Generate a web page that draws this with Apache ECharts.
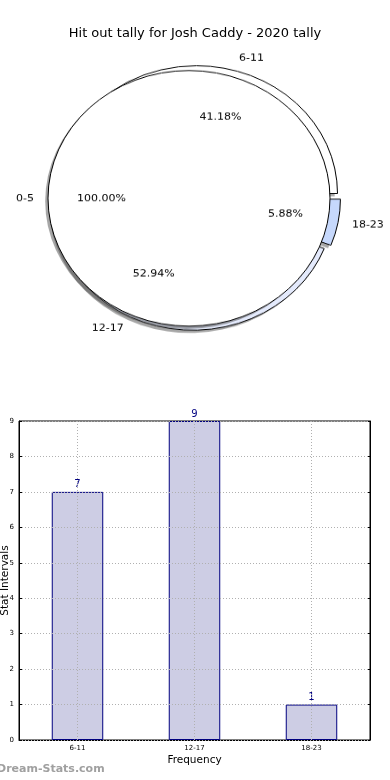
<!DOCTYPE html>
<html>
<head>
<meta charset="utf-8">
<script src="https://cdn.jsdelivr.net/npm/echarts@6/dist/echarts.min.js"></script>
<style>
html,body{margin:0;padding:0;background:#fff;}
#main{position:absolute;left:0;top:0;width:390px;height:780px;}
#pie{position:absolute;left:0;top:0;width:390px;height:420px;transform:scaleY(0.9064);transform-origin:0 0;}
</style>
</head>
<body>
<div id="main"></div>
<div id="pie"></div>
<script>
// ---- data ----
const titleText = 'Hit out tally for Josh Caddy - 2020 tally';
const pieCategories = ['6-11', '12-17', '18-23'];
const pieValues = [7, 9, 1];
const innerCategories = ['0-5'];
const innerValues = [1];
const barCategories = ['6-11', '12-17', '18-23'];
const barValues = [7, 9, 1];
const yAxisName = 'Stat Intervals';
const xAxisName = 'Frequency';
const watermark = 'Dream-Stats.com';

// ---- styles ----
const FONT = 'DejaVu Sans';
const SY = 0.9064;
const R = 141, CX = 195, CY = 218.8;
const SHX = -2.8, SHY = 2.8 / SY;
const pieColors = ['#ffffff', '#e4eafc', '#c6d8fc'];
const explode = [5.5, 5, 4.5];
const innerExplode = 6;
const shadowFill = 'rgba(77,77,77,0.5)';
const hidden = {color: 'rgba(0,0,0,0)', borderWidth: 0};
const pctFmt = p => p.percent.toFixed(2) + '%';

function basePie(z, offset, radius, center) {
  return {
    type: 'pie', z: z, center: center || [CX, CY], radius: radius,
    startAngle: 0, clockwise: false,
    selectedMode: 'multiple', selectedOffset: offset,
    avoidLabelOverlap: false, animation: false,
    emphasis: {disabled: true}
  };
}
const noLabel = {label: {show: false}, labelLine: {show: false}};
const pieSeries = [];
pieCategories.forEach((c, i) => {
  // shadow copy
  pieSeries.push(Object.assign(basePie(1, explode[i], [0, R], [CX + SHX, CY + SHY]), noLabel, {
    data: pieCategories.map((n, j) => ({
      name: n, value: pieValues[j], selected: j === i,
      itemStyle: j === i ? {color: shadowFill, borderWidth: 0} : hidden
    }))
  }));
  // wedge
  pieSeries.push(Object.assign(basePie(2, explode[i], [0, R]), {
    label: {show: true, position: 'outside', formatter: '{b}', fontFamily: FONT, fontSize: 11, color: '#000', distanceToLabelLine: 0},
    labelLine: {show: false, length: 0.1 * R, length2: 0},
    data: pieCategories.map((n, j) => ({
      name: n, value: pieValues[j], selected: j === i,
      itemStyle: j === i ? {color: pieColors[j], borderColor: '#000', borderWidth: 1} : hidden,
      label: {show: j === i}
    }))
  }));
  // percentage label
  pieSeries.push(Object.assign(basePie(5, explode[i], [0.2 * R, R]), {
    label: {show: true, position: 'inside', formatter: pctFmt, fontFamily: FONT, fontSize: 11, color: '#000'},
    labelLine: {show: false},
    data: pieCategories.map((n, j) => ({
      name: n, value: pieValues[j], selected: j === i,
      itemStyle: hidden, label: {show: j === i}
    }))
  }));
});
// inner full circle
pieSeries.push(Object.assign(basePie(3, innerExplode, [0, R], [CX + SHX, CY + SHY]), noLabel, {
  data: innerCategories.map((n, j) => ({name: n, value: innerValues[j], selected: true, itemStyle: {color: shadowFill, borderWidth: 0}}))
}));
pieSeries.push(Object.assign(basePie(4, innerExplode, [0, R]), {
  label: {show: true, position: 'outside', formatter: '{b}', fontFamily: FONT, fontSize: 11, color: '#000', distanceToLabelLine: 0},
  labelLine: {show: false, length: 0.1 * R, length2: 0},
  data: innerCategories.map((n, j) => ({
    name: n, value: innerValues[j], selected: true,
    itemStyle: {color: '#ffffff', borderColor: '#000', borderWidth: 1}
  }))
}));
pieSeries.push(Object.assign(basePie(5, innerExplode, [0.2 * R, R]), {
  label: {show: true, position: 'inside', formatter: pctFmt, fontFamily: FONT, fontSize: 11, color: '#000'},
  labelLine: {show: false},
  data: innerCategories.map((n, j) => ({name: n, value: innerValues[j], selected: true, itemStyle: hidden}))
}));

const pie = echarts.init(document.getElementById('pie'), null, {renderer: 'canvas'});
pie.setOption({animation: false, textStyle: {fontFamily: FONT}, series: pieSeries});

const main = echarts.init(document.getElementById('main'), null, {renderer: 'canvas'});
const dotted = {type: [1, 2], color: '#b0b0b0', width: 1};
main.setOption({
  animation: false,
  backgroundColor: '#ffffff',
  textStyle: {fontFamily: FONT},
  title: {text: titleText, left: 'center', top: 22, textStyle: {fontFamily: FONT, fontSize: 13, fontWeight: 'normal', color: '#000'}},
  graphic: [{type: 'text', left: -3, top: 764, style: {text: watermark, fontFamily: FONT, fontSize: 11, fontWeight: 'bold', fill: '#a0a0a0'}}],
  grid: {left: 19, right: 20, top: 421, bottom: 40, containLabel: false, outerBoundsMode: 'none',
    show: true, borderColor: '#000', borderWidth: 1, backgroundColor: 'transparent'},
  xAxis: {
    type: 'category', data: barCategories,
    axisLine: {lineStyle: {color: '#000'}},
    axisTick: {alignWithLabel: true, inside: true, length: 3, lineStyle: {color: '#000'}},
    axisLabel: {fontSize: 7, color: '#000', margin: 5},
    splitLine: {show: false},
    name: xAxisName, nameLocation: 'middle', nameGap: 15, nameMoveOverlap: false, nameTextStyle: {fontSize: 10.5, color: '#000'}
  },
  yAxis: [{
    type: 'value', min: 0, max: 9, interval: 1, z: 3,
    axisLine: {show: true, lineStyle: {color: '#000'}},
    axisTick: {show: true, inside: true, length: 3, lineStyle: {color: '#000'}},
    axisLabel: {fontSize: 7, color: '#000', margin: 5},
    splitLine: {show: true, lineStyle: dotted},
    name: yAxisName, nameLocation: 'middle', nameGap: 8, nameMoveOverlap: false, nameTextStyle: {fontSize: 10.5, color: '#000'}
  }, {
    type: 'value', position: 'right', min: 0, max: 9, interval: 1,
    axisLine: {show: true, lineStyle: {color: '#000'}},
    axisTick: {show: true, inside: true, length: 3, lineStyle: {color: '#000'}},
    axisLabel: {show: false}, splitLine: {show: false}
  }],
  series: [{
    type: 'bar', data: barValues, barWidth: '44%',
    itemStyle: {color: '#cdcde4', borderColor: '#000080', borderWidth: 1},
    label: {show: true, position: 'top', color: '#000080', fontSize: 10, distance: 2},
    markLine: {silent: true, symbol: 'none', z: 5, label: {show: false}, lineStyle: dotted,
      data: barCategories.map(c => ({xAxis: c}))}
  }]
});
</script>
</body>
</html>
